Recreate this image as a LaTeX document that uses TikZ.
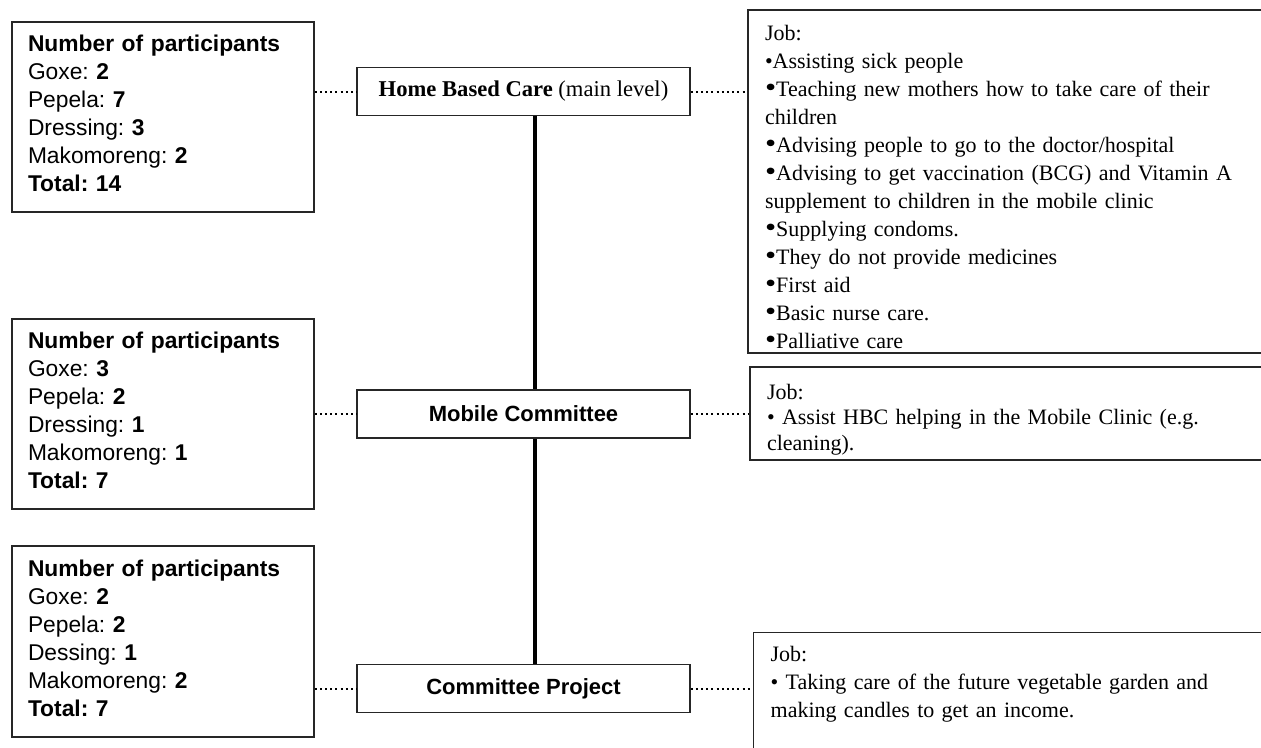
\documentclass[tikz,border=0pt]{standalone}
\usepackage{fontspec}
\setmainfont{Liberation Serif}
\newfontfamily\arialish{Liberation Sans}
\usetikzlibrary{calc}
\frenchspacing

% larger round bullet used in the task list
\newcommand\bigbul{\scalebox{1.45}[1.25]{\textbullet}}
% invisible struts that move a text block inside its box
\newcommand\toppad[1]{\rule{0pt}{#1}}
\newcommand\botpad[1]{\rule[-#1]{0pt}{0pt}}

\begin{document}
\begin{tikzpicture}[x=1pt,y=-1pt,
  box/.style={draw=black!85, line width=1.3pt, fill=white, rectangle, inner sep=0pt},
  countbox/.style={box, minimum width=302, minimum height=190, text width=270,
    align=left, font=\arialish\fontsize{22.8}{28}\selectfont},
  levelbox/.style={box, minimum width=333, minimum height=48},
  jobbox/.style={box, align=left, font=\fontsize{22}{28}\selectfont},
  dots/.style={line width=2pt, dash pattern=on 2pt off 3.2pt},
  spineline/.style={line width=4pt}]

\useasboundingbox (0,0) rectangle (1261,747);
\clip (0,0) rectangle (1261,747);

% participant counts
\node[countbox] (p1) at (163,117) {%
  \textbf{Number of participants}\\
  Goxe: \textbf{2}\\
  Pepela: \textbf{7}\\
  Dressing: \textbf{3}\\
  Makomoreng: \textbf{2}\\
  \textbf{Total: 14}\botpad{7pt}};
\node[countbox] (p2) at (163,414) {%
  \textbf{Number of participants}\\
  Goxe: \textbf{3}\\
  Pepela: \textbf{2}\\
  Dressing: \textbf{1}\\
  Makomoreng: \textbf{1}\\
  \textbf{Total: 7}\botpad{7pt}};
\node[countbox, minimum height=191] (p3) at (163,641.5) {%
  \textbf{Number of participants}\\
  Goxe: \textbf{2}\\
  Pepela: \textbf{2}\\
  Dessing: \textbf{1}\\
  Makomoreng: \textbf{2}\\
  \textbf{Total: 7}\botpad{7pt}};

% levels of the organisation
\node[levelbox, font=\fontsize{22.6}{26}\selectfont] (hbc) at (523.5,91.5)
  {\textbf{Home Based Care} (main level)};
\node[levelbox, font=\arialish\bfseries\fontsize{22}{26}\selectfont] (mob) at (523.5,414)
  {Mobile Committee};
\node[levelbox, font=\arialish\bfseries\fontsize{22}{26}\selectfont] (cp) at (523.5,688.5)
  {Committee Project};

% job descriptions
\node[jobbox, minimum width=552, minimum height=343, text width=518] (ja) at (1024,181.5) {%
  \toppad{27pt}Job:\\
  \textbullet Assisting sick people\\
  \bigbul Teaching new mothers how to take care of their\\
  children\\
  \bigbul Advising people to go to the doctor/hospital\\
  \bigbul Advising to get vaccination (BCG) and Vitamin A\\
  supplement to children in the mobile clinic\\
  \bigbul Supplying condoms.\\
  \bigbul They do not provide medicines\\
  \bigbul First aid\\
  \bigbul Basic nurse care.\\
  \bigbul Palliative care};
\node[jobbox, font=\fontsize{22}{25.5}\selectfont, minimum width=550, minimum height=93,
  text width=516] (jb) at (1025,413.5) {%
  \toppad{27pt}Job:\\
  \textbullet{} Assist HBC helping in the Mobile Clinic (e.g.\\
  cleaning).};
\node[jobbox, anchor=north west, inner xsep=17pt, inner ysep=14pt, text width=513] (jc)
  at (753,632) {%
  Job:\\
  \textbullet{} Taking care of the future vegetable garden and\\
  making candles to get an income.\\
  \mbox{}\\ \mbox{}\\ \mbox{}\\ \mbox{}};

% dotted links between counts, levels and jobs
\draw[dots] (p1.east |- hbc.west) -- (hbc.west);
\draw[dots] (hbc.east) -- (hbc.east -| ja.west);
\draw[dots] (p2.east |- mob.west) -- (mob.west);
\draw[dots] (mob.east) -- (mob.east -| jb.west);
\draw[dots] (p3.east |- cp.west) -- (cp.west);
\draw[dots] (cp.east) -- (cp.east -| jc.west);

% vertical spine joining the levels
\coordinate (spine) at (535,0);
\draw[spineline] (hbc.south -| spine) -- (mob.north -| spine);
\draw[spineline] (mob.south -| spine) -- (cp.north -| spine);
\end{tikzpicture}
\end{document}
